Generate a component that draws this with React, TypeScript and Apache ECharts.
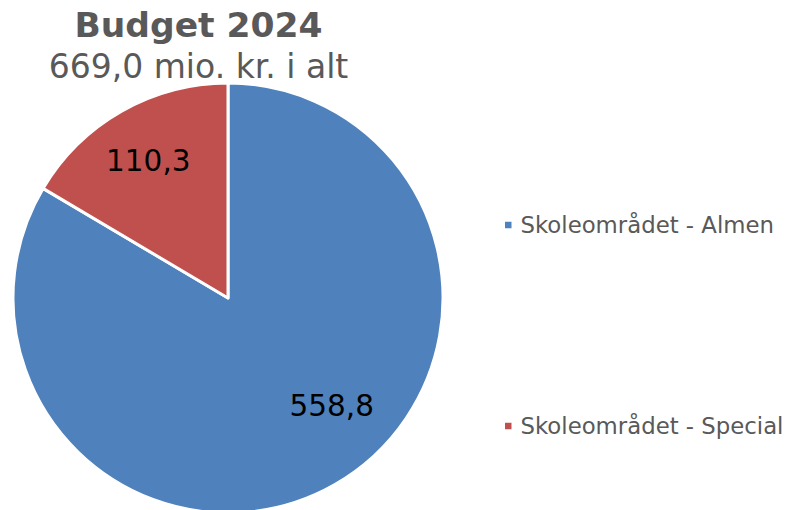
import React, { useEffect, useRef } from "react";
import * as echarts from "echarts";

const categories = ["Skoleområdet - Almen", "Skoleområdet - Special"];
const values = [558.8, 110.3];
const colors = ["#4F81BD", "#C0504D"];
const titleText = "Budget 2024";
const subtitleText = "669,0 mio. kr. i alt";

const FONT = "'DejaVu Sans', Verdana, sans-serif";

export default function App() {
  const ref = useRef<HTMLDivElement>(null);
  useEffect(() => {
    if (!ref.current) return;
    document.body.style.margin = "0";
    const chart = echarts.init(ref.current, undefined, { renderer: "svg" });
    const labelOffsets = [
      { dx: 49, dy: 12 },
      { dx: -25, dy: -41 },
    ];
    chart.setOption({
      animation: false,
      backgroundColor: "#ffffff",
      graphic: [
        {
          type: "text",
          x: 198.5,
          y: 24.5,
          style: {
            text: titleText,
            fontFamily: FONT,
            fontSize: 34.5,
            fontWeight: "bold",
            fill: "#595959",
            align: "center",
            verticalAlign: "middle",
          },
        },
        {
          type: "text",
          x: 198.5,
          y: 66,
          style: {
            text: subtitleText,
            fontFamily: FONT,
            fontSize: 33,
            fill: "#595959",
            align: "center",
            verticalAlign: "middle",
          },
        },
      ],
      legend: {
        orient: "vertical",
        left: 503,
        top: 212,
        padding: 0,
        itemWidth: 8.5,
        itemHeight: 8.5,
        itemGap: 175,
        icon: "rect",
        data: categories,
        textStyle: {
          fontFamily: FONT,
          fontSize: 22.8,
          color: "#595959",
          lineHeight: 26,
          padding: [0, 0, 0, 3],
        },
      },
      series: [
        {
          type: "pie",
          center: [228, 298],
          radius: 215,
          startAngle: 90,
          clockwise: true,
          data: categories.map((name, i) => ({
            name,
            value: values[i],
            itemStyle: { color: colors[i] },
          })),
          itemStyle: { borderColor: "#ffffff", borderWidth: 3 },
          label: {
            show: true,
            position: "inside",
            fontFamily: FONT,
            fontSize: 29.5,
            color: "#000000",
            formatter: (p: any) => Number(p.value).toFixed(1).replace(".", ","),
          },
          labelLayout: (p: any) => labelOffsets[p.dataIndex] || {},
          labelLine: { show: false },
          emphasis: { disabled: true },
        },
      ],
    });
    return () => chart.dispose();
  }, []);
  return <div ref={ref} style={{ width: 789, height: 510 }} />;
}
